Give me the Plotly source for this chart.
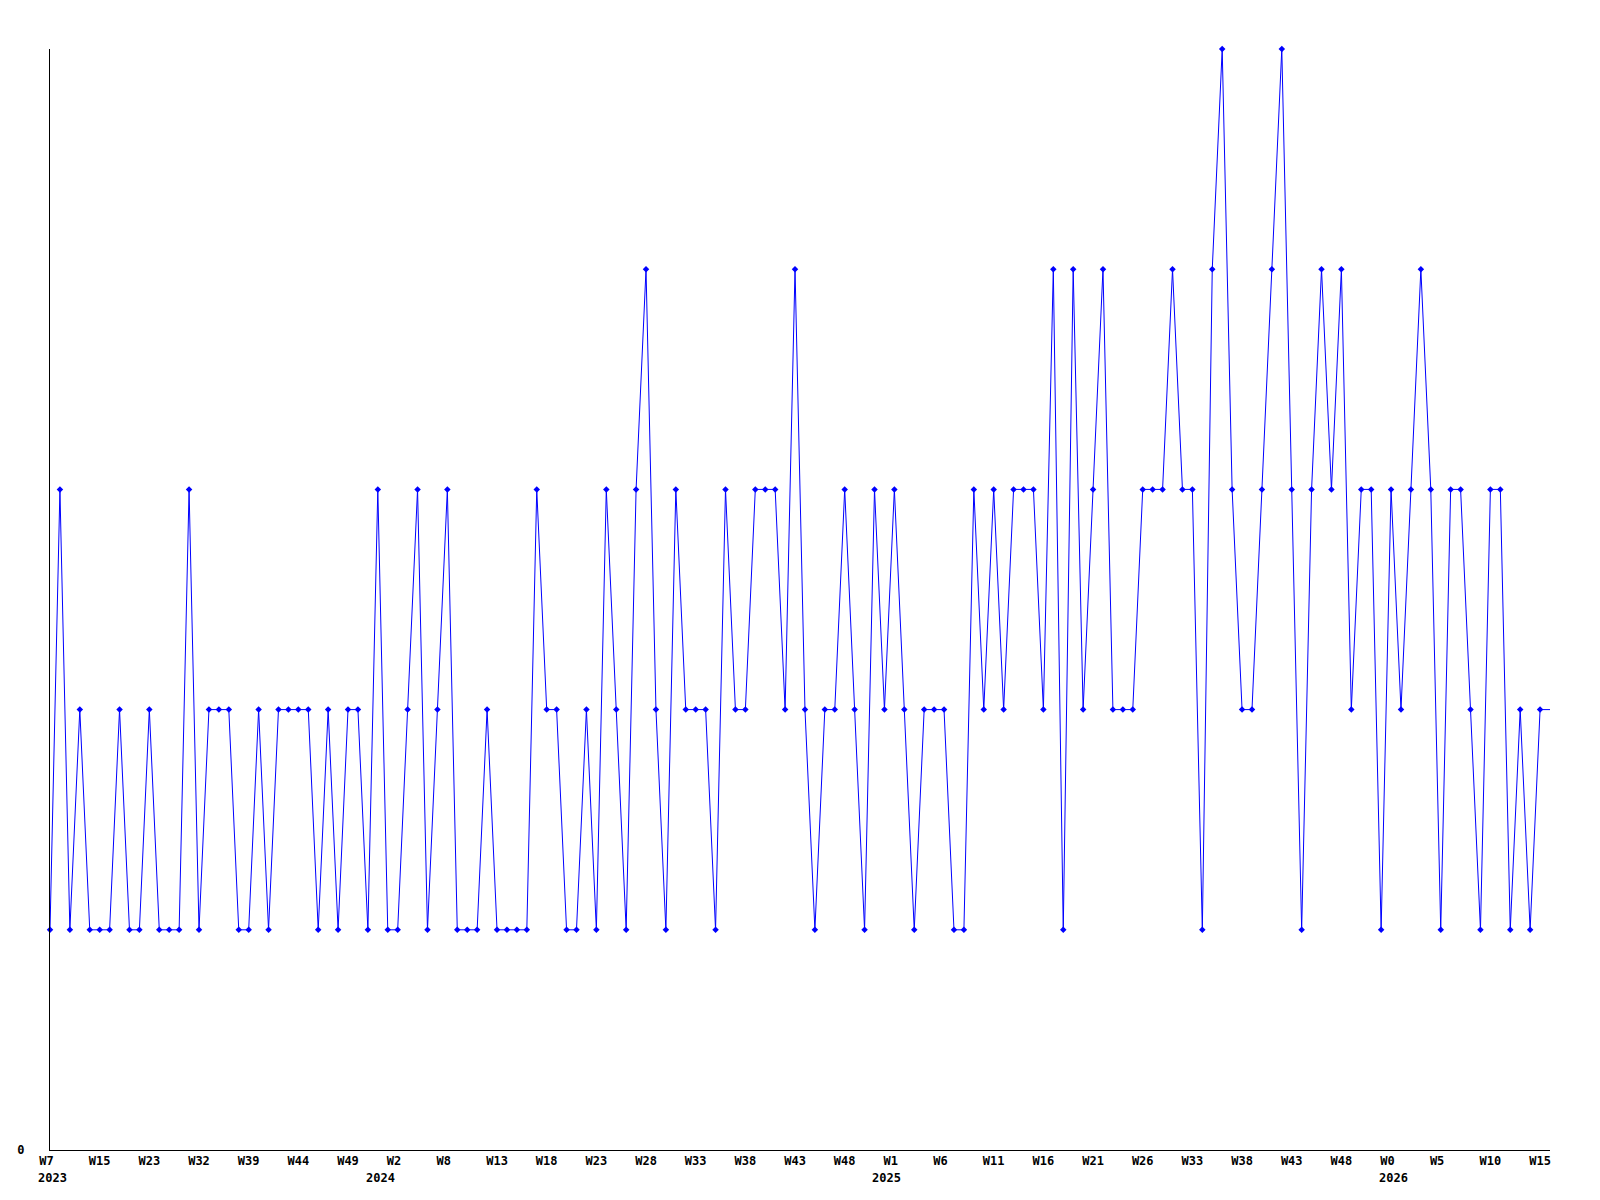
import plotly.graph_objects as go

# Data: one value per point (evenly spaced along the x axis)
values = [
    1, 3, 1, 2, 1, 1, 1, 2, 1, 1,
    2, 1, 1, 1, 3, 1, 2, 2, 2, 1,
    1, 2, 1, 2, 2, 2, 2, 1, 2, 1,
    2, 2, 1, 3, 1, 1, 2, 3, 1, 2,
    3, 1, 1, 1, 2, 1, 1, 1, 1, 3,
    2, 2, 1, 1, 2, 1, 3, 2, 1, 3,
    4, 2, 1, 3, 2, 2, 2, 1, 3, 2,
    2, 3, 3, 3, 2, 4, 2, 1, 2, 2,
    3, 2, 1, 3, 2, 3, 2, 1, 2, 2,
    2, 1, 1, 3, 2, 3, 2, 3, 3, 3,
    2, 4, 1, 4, 2, 3, 4, 2, 2, 2,
    3, 3, 3, 4, 3, 3, 1, 4, 5, 3,
    2, 2, 3, 4, 5, 3, 1, 3, 4, 3,
    4, 2, 3, 3, 1, 3, 2, 3, 4, 3,
    1, 3, 3, 2, 1, 3, 3, 1, 2, 1,
    2,
]
x_index = list(range(len(values)))

tick_step = 5
tick_labels = [
    "W7", "W15", "W23", "W32", "W39", "W44", "W49", "W2", "W8", "W13",
    "W18", "W23", "W28", "W33", "W38", "W43", "W48", "W1", "W6", "W11",
    "W16", "W21", "W26", "W33", "W38", "W43", "W48", "W0", "W5", "W10",
    "W15",
]
tick_vals = [i * tick_step for i in range(len(tick_labels))]

year_labels = ["2023", "2024", "2025", "2026"]
year_index = [0, 33, 84, 135]

FONT = "DejaVu Sans Mono"
BLUE = "#0000ff"

last = len(values) - 1
x_end = last + 1  # axis extends one step past the last point

fig = go.Figure()
# the last value carried on to the right edge of the plot
fig.add_trace(go.Scatter(
    x=[last, x_end], y=[values[-1], values[-1]], mode="lines",
    line=dict(color=BLUE, width=1), showlegend=False, hoverinfo="skip",
))
fig.add_trace(go.Scatter(
    x=x_index, y=values, mode="lines+markers",
    line=dict(color=BLUE, width=1),
    marker=dict(symbol="diamond", size=5, color=BLUE),
    cliponaxis=False, showlegend=False, hoverinfo="skip",
))

# pad labels to 3 chars so centered labels look left aligned
padded = [t + "\u00a0" * (3 - len(t)) for t in tick_labels]

for yl, yi in zip(year_labels, year_index):
    fig.add_annotation(
        x=yi, y=0, xref="x", yref="paper", text=yl, showarrow=False,
        xanchor="left", yanchor="top", yshift=-19, xshift=-14,
        font=dict(family=FONT, size=12, color="black", weight="bold"),
    )

fig.update_layout(
    width=1600, height=1200,
    margin=dict(l=50, r=50, t=49, b=50),
    paper_bgcolor="white", plot_bgcolor="white",
    xaxis=dict(
        range=[0, x_end], tickvals=tick_vals, ticktext=padded,
        showgrid=False, zeroline=False, showline=True, linecolor="black",
        linewidth=1, ticks="", tickangle=0,
        tickfont=dict(family=FONT, size=12, color="black", weight="bold"),
    ),
    yaxis=dict(
        range=[0, 5], tickvals=[0], ticktext=["0"],
        showgrid=False, zeroline=False, showline=True, linecolor="black",
        linewidth=1, ticks="", ticklabelstandoff=22,
        tickfont=dict(family=FONT, size=12, color="black", weight="bold"),
    ),
)

fig.write_html("out.html", config={"displayModeBar": False},
               post_script="document.body.style.margin='0';")
